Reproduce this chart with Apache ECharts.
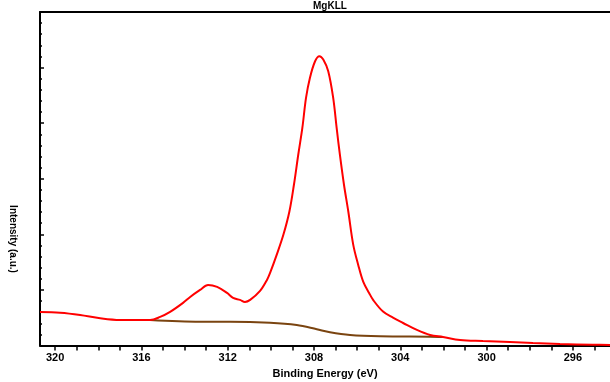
<!DOCTYPE html>
<html>
<head>
<meta charset="utf-8">
<script src="https://cdn.jsdelivr.net/npm/echarts@6/dist/echarts.min.js"></script>
<style>html,body{margin:0;padding:0;background:#fff}#c{width:610px;height:382px}</style>
</head>
<body>
<div id="c"></div>
<script>
// Binding energy (eV) and intensity (a.u.)
const envelopeBE = [320.70,319.77,318.84,317.91,316.99,316.06,315.60,315.13,314.67,314.07,313.74,313.28,312.91,312.49,312.03,311.75,311.43,311.20,310.96,310.50,310.18,310.04,309.73,309.42,309.14,308.93,308.73,308.54,308.37,308.19,307.95,307.75,307.57,307.34,307.11,306.95,306.80,306.61,306.41,306.18,305.95,305.72,305.44,305.26,304.80,304.34,303.87,303.23,302.62,302.02,301.23,300.17,298.92,297.85,296.60,295.07,294.28];
const envelopeI  = [0.604,0.591,0.550,0.490,0.459,0.459,0.459,0.514,0.604,0.766,0.874,1.000,1.090,1.054,0.946,0.856,0.820,0.784,0.820,0.982,1.180,1.301,1.631,1.991,2.411,2.892,3.432,3.914,4.454,4.814,5.114,5.204,5.144,4.933,4.454,3.914,3.432,2.892,2.411,1.811,1.450,1.150,0.941,0.820,0.610,0.500,0.405,0.280,0.190,0.153,0.099,0.081,0.063,0.045,0.027,0.014,0.009];
const backgroundBE = [315.60,313.28,311.89,310.04,308.80,307.87,307.26,306.33,304.94,302.62,302.02];
const backgroundI  = [0.459,0.429,0.429,0.411,0.369,0.292,0.238,0.189,0.166,0.159,0.153];
const xLabelTicks = [296,300,304,308,312,316,320];
const xMinorTicks = [295,296,297,298,299,300,301,302,303,304,305,306,307,308,309,310,311,312,313,314,315,316,317,318,319,320];

const pair = (xs, ys) => xs.map((x, i) => [x, ys[i]]);
const font = '"Liberation Sans", Arial, sans-serif';

const chart = echarts.init(document.getElementById('c'), null, {renderer: 'canvas'});
chart.setOption({
  animation: false,
  backgroundColor: '#fff',
  grid: {left: 40, right: 0, top: 12, bottom: 36.5, outerBoundsMode: 'none', containLabel: false},
  xAxis: [{
    type: 'value', inverse: true, min: 294.28, max: 320.7,
    position: 'bottom',
    axisLine: {show: true, onZero: false, lineStyle: {color: '#000', width: 2}},
    axisTick: {show: true, inside: false, length: 5, lineStyle: {color: '#000', width: 1.5}, customValues: xMinorTicks},
    axisLabel: {show: true, color: '#000', fontFamily: font, fontWeight: 'bold', fontSize: 11, margin: 7, customValues: xLabelTicks},
    splitLine: {show: false},
    name: 'Binding Energy (eV)', nameLocation: 'middle', nameGap: 23,
    nameTextStyle: {color: '#000', fontFamily: font, fontWeight: 'bold', fontSize: 11}
  }, {
    type: 'value', inverse: true, min: 294.28, max: 320.7, position: 'top',
    axisLine: {show: true, onZero: false, lineStyle: {color: '#000', width: 2}},
    axisTick: {show: false}, axisLabel: {show: false}, splitLine: {show: false}
  }],
  yAxis: {
    type: 'value', min: 0, max: 6, interval: 1,
    axisLine: {show: true, onZero: false, lineStyle: {color: '#000', width: 2}},
    axisTick: {show: true, inside: true, length: 4, lineStyle: {color: '#000', width: 1.5}},
    minorTick: {show: true, splitNumber: 5, length: 2, lineStyle: {color: '#000', width: 1.5}},
    axisLabel: {show: false},
    splitLine: {show: false}
  },
  graphic: [
    {type: 'text', left: 313, top: 1, style: {text: 'MgKLL', font: 'bold 10px ' + font, fill: '#000'}},
    {type: 'text', x: 13, y: 239, rotation: -Math.PI / 2,
     style: {text: 'Intensity (a.u.)', font: 'bold 10px ' + font, fill: '#000', align: 'center', verticalAlign: 'middle'}}
  ],
  series: [{
    type: 'line', data: pair(backgroundBE, backgroundI), showSymbol: false, smooth: 0.35,
    lineStyle: {color: '#7a4410', width: 2}, z: 2
  }, {
    type: 'line', data: pair(envelopeBE, envelopeI), showSymbol: false, smooth: 0.35,
    lineStyle: {color: '#ff0000', width: 2}, z: 3
  }]
});
</script>
</body>
</html>
